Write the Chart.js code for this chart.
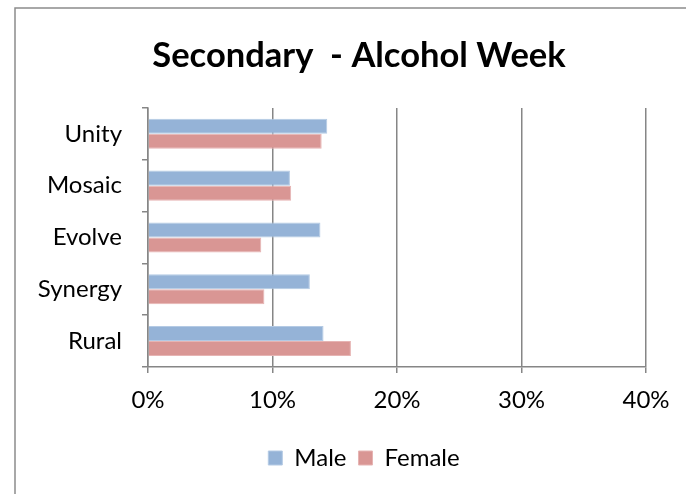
<!DOCTYPE html>
<html>
<head>
<meta charset="utf-8">
<script src="https://cdn.jsdelivr.net/npm/chart.js@4"></script>
<style>
  html, body { margin: 0; padding: 0; background: #fff; }
  #wrap { position: relative; width: 686px; height: 494px; }
</style>
</head>
<body>
<div id="wrap"><canvas id="chart" width="686" height="494"></canvas></div>
<script>
const schools = ['Unity', 'Mosaic', 'Evolve', 'Synergy', 'Rural'];
const maleValues = [14.4, 11.4, 13.85, 13.0, 14.1];
const femaleValues = [13.95, 11.5, 9.1, 9.35, 16.3];
const xTicks = [0, 10, 20, 30, 40];

const FONT = 'Lato, "Open Sans", sans-serif';
const GRID = '#868686';

// outer frame like the spreadsheet chart box
const framePlugin = {
  id: 'frame',
  beforeDraw(chart) {
    const ctx = chart.ctx;
    ctx.save();
    ctx.fillStyle = '#fff';
    ctx.fillRect(0, 0, chart.width, chart.height);
    ctx.strokeStyle = '#8c8c8c';
    ctx.lineWidth = 1.5;
    ctx.strokeRect(15, 8, 720, 520);
    ctx.restore();
  },
  // title and legend sit centred over the whole frame, not the plot box
  afterLayout(chart) {
    chart.titleBlock.left += 36;
    chart.titleBlock.right += 36;
    chart.legend.left += 41;
    chart.legend.right += 41;
  }
};

new Chart(document.getElementById('chart'), {
  type: 'bar',
  data: {
    labels: schools,
    datasets: [
      {
        label: 'Male',
        data: maleValues,
        backgroundColor: '#95B3D7',
        borderColor: '#B4CAE4',
        borderWidth: 1,
      },
      {
        label: 'Female',
        data: femaleValues,
        backgroundColor: '#D99694',
        borderColor: '#E6B4B3',
        borderWidth: 1,
      },
    ],
  },
  plugins: [framePlugin],
  options: {
    indexAxis: 'y',
    responsive: false,
    animation: false,
    devicePixelRatio: 1,
    categoryPercentage: 0.58,
    barPercentage: 1.0,
    layout: { padding: { left: 0, right: 40, top: 0, bottom: 14 } },
    plugins: {
      title: {
        display: true,
        text: 'Secondary  - Alcohol Week',
        color: '#000',
        font: { family: FONT, size: 34.5, weight: 'bold' },
        padding: { top: 35, bottom: 31.5 },
      },
      legend: {
        position: 'bottom',
        labels: {
          color: '#000',
          font: { family: FONT, size: 24 },
          boxWidth: 14,
          boxHeight: 14,
          padding: 12,
        },
      },
      tooltip: { enabled: false },
    },
    scales: {
      x: {
        min: 0,
        max: 40,
        afterBuildTicks(scale) {
          scale.ticks = xTicks.map(v => ({ value: v }));
        },
        afterFit(scale) { scale.height = 67; },
        ticks: {
          color: '#000',
          font: { family: FONT, size: 24 },
          padding: 13,
          callback: v => v + '%',
        },
        grid: {
          color: GRID,
          lineWidth: 1.5,
          tickLength: 6,
        },
        border: { color: GRID, width: 1.5 },
      },
      y: {
        afterFit(scale) { scale.width = 148; },
        ticks: {
          color: '#000',
          font: { family: FONT, size: 24 },
          padding: 20,
        },
        grid: {
          color: GRID,
          lineWidth: 1.5,
          drawOnChartArea: false,
          tickLength: 6,
        },
        border: { color: GRID, width: 1.5 },
      },
    },
  },
});
</script>
</body>
</html>
